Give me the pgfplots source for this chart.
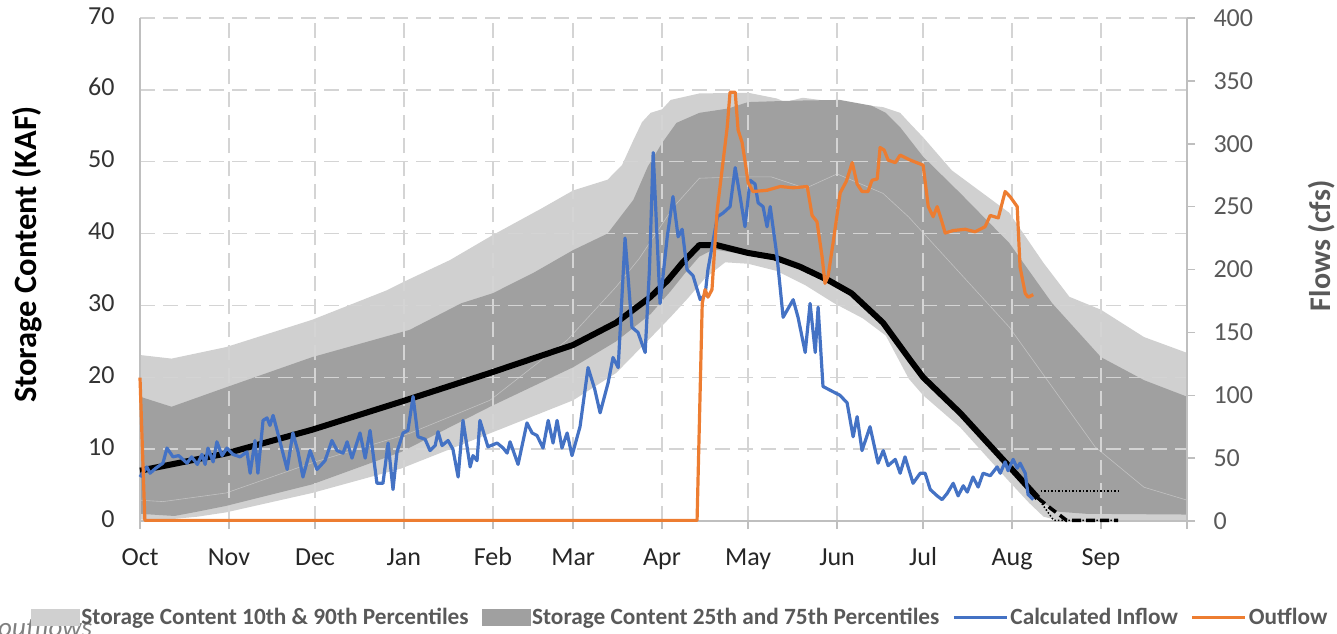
\documentclass[border=0pt]{standalone}
\usepackage{fontspec}
\setmainfont{Carlito}
\usepackage{pgfplots}
\pgfplotsset{compat=1.18}

\definecolor{lightband}{HTML}{D0D0D0}
\definecolor{darkband}{HTML}{A0A0A0}
\definecolor{inflow}{HTML}{4472C4}
\definecolor{outflow}{HTML}{ED7D31}
\definecolor{gridgray}{HTML}{D4D4D4}
\definecolor{axisgray}{HTML}{BFBFBF}
\definecolor{labelgray}{HTML}{595959}

\newcommand{\tickfont}{\fontsize{26}{30}\selectfont}
\newcommand{\labfont}{\fontsize{30}{34}\selectfont\bfseries}
\newcommand{\legfont}{\fontsize{23.3}{27}\selectfont\bfseries}

\pgfplotsset{
  /pgf/number format/assume math mode=true,
  common/.style={
    scale only axis, width=1047pt, height=503pt,
    at={(0pt,0pt)}, anchor=south west,
    xmin=0, xmax=365, clip=false,
    axis line style={axisgray, line width=1.5pt},
    tick align=outside, major tick length=8pt,
  },
}

\begin{document}
\begin{tikzpicture}

% stray caption text cut off at the bottom edge
\node[anchor=base west, font=\fontsize{27}{30}\selectfont\itshape, text=black!50, inner sep=0pt]
  at (-142pt,-115pt) {outflows};

% ---- storage (left axis, KAF) ----
\begin{axis}[
  common, set layers,
  ymin=0, ymax=70,
  axis x line*=bottom, axis y line*=left,
  xtick={0,31,61,92,123,151,182,212,243,273,304,335,365},
  xticklabels={Oct,Nov,Dec,Jan,Feb,Mar,Apr,May,Jun,Jul,Aug,Sep,{}},
  typeset ticklabels with strut,
  ytick={0,10,...,70},
  grid=major,
  grid style={gridgray, line width=1.5pt, dash pattern=on 15pt off 8pt},
  xtick style={axisgray, line width=1.5pt},
  ytick style={draw=none},
  ticklabel style={font=\tickfont},
  xticklabel style={text=black!85, yshift=-12pt},
  yticklabel style={text=black!80, xshift=-14pt},
  ylabel={Storage Content (KAF)},
  ylabel style={font=\fontsize{32.5}{36}\selectfont\bfseries,
    at={(axis description cs:-0.108,0.53)}, anchor=center},
]

% 10th-90th percentile band (90th forward, 10th back)
\addplot[on layer=axis background, fill=lightband, draw=none] coordinates {
  (0,23.1) (11,22.6) (30,24.2) (60,28.0) (86,32.1) (92,33.3) (108,36.3) (123,39.8)
  (140,43.5) (151,46.0) (163,47.5) (168,49.5) (172,53.0) (175,55.5) (178,56.8)
  (182,57.3) (185,58.6) (195,59.5) (212,59.6) (222,58.8) (225,58.3) (231,58.9)
  (243,58.3) (259,57.6) (265,56.8) (268,55.5) (273,53.4) (283,48.8) (303,42.9)
  (315,35.9) (324,31.2) (335,29.4) (350,25.6) (365,23.4)
  (365,0.1) (320,0.1) (315,0.6) (310,2.5) (303,5.5) (286,13.0) (273,17.5) (268,19.8)
  (260,25.8) (252,28.2) (242,30.3) (232,32.8) (222,34.8) (212,35.8) (204,36.0)
  (197,33.8) (191,31.0) (185,28.4) (178,25.5) (166,20.6) (151,16.8) (122,12.2)
  (91,7.3) (60,3.9) (30,1.2) (20,0.6) (12,0.3) (0,0.2)
};

% 25th-75th percentile band (75th forward, 25th back)
\addplot[on layer=axis background, fill=darkband, draw=none] coordinates {
  (0,17.3) (11,15.9) (30,18.6) (60,22.8) (94,26.6) (112,30.3) (123,31.7) (137,34.5)
  (151,37.7) (163,40.0) (172,44.7) (177,49.3) (182,52.6) (187,55.4) (195,56.8)
  (205,57.4) (212,58.3) (228,58.5) (244,58.6) (255,57.8) (260,56.8) (265,54.8)
  (268.5,53.0) (273,50.7) (286,45.6) (303,38.7) (318,30.3) (335,22.8) (350,19.6) (365,17.3)
  (365,0.9) (330,1.0) (320,1.3) (313,3.0) (303,7.3) (286,14.7) (273,19.8) (268,22.2)
  (259,27.2) (248,31.3) (240,33.1) (230,35.0) (221,36.3) (212,37.0) (200,37.8)
  (195,36.8) (190,34.5) (185,32.0) (178,28.8) (166,25.0) (151,21.4) (122,15.9)
  (91,9.6) (60,5.1) (30,2.1) (20,1.3) (12,0.7) (0,1.0)
};

% faint median trace
\addplot[on layer=axis background, white, opacity=0.35, line width=0.6pt] coordinates {
  (0,2.9) (8,2.7) (30,3.9) (60,8.1) (94,12.2) (122,16.8) (149,25.2) (166,32.6)
  (174,36.5) (186,43.7) (195,47.7) (209,47.9) (220,47.9) (232,46.3) (243,48.3)
  (259,45.6) (268,42.3) (303,27.0) (333,10.3) (350,4.7) (365,2.9)
};

% current storage
\addplot[black, line width=6pt, line join=round] coordinates {
  (0,7.0) (30,9.4) (60,12.7) (91,16.6) (122,20.6) (151,24.5) (166,27.6) (178,31.2)
  (184,33.5) (189,35.9) (195,38.4) (201,38.4) (212,37.3) (221,36.7) (230,35.4)
  (240,33.5) (248,31.7) (259,27.6) (268.5,22.4) (273,20.0) (286,15.0) (303,7.6) (313,3.2)
};
% projections
\addplot[black, line width=3.5pt, dash pattern=on 9pt off 5pt] coordinates {
  (313,3.2) (318,1.6) (323,0.1) (341,0.1)
};
\addplot[black, line width=1.5pt, dotted] coordinates {
  (313,3.2) (318.5,0.1) (341,0.1)
};
\addplot[black, line width=1.5pt, dotted] coordinates {
  (314,4.2) (341,4.2)
};
\end{axis}

% ---- flows (right axis, cfs) ----
\begin{axis}[
  common,
  ymin=0, ymax=400,
  axis x line=none, axis y line*=right,
  ytick={0,50,...,400},
  ytick style={axisgray, line width=1.5pt},
  yticklabel style={font=\tickfont, text=labelgray, xshift=15pt},
  ylabel={Flows (cfs)},
  ylabel style={font=\labfont, text=labelgray, at={(axis description cs:1.129,0.547)}, anchor=center},
  legend columns=4,
  legend style={at={(0.516,-0.191)}, anchor=center, draw=none, fill=none,
    font=\legfont, text=labelgray,
    /tikz/every even column/.append style={column sep=11pt}},
]
\addlegendimage{legend image code/.code={\fill[lightband] (0pt,-8pt) rectangle (48pt,8pt);}}
\addlegendimage{legend image code/.code={\fill[darkband] (0pt,-8pt) rectangle (48pt,8pt);}}

% calculated inflow
\addplot[inflow, line width=3.2pt, line join=round,
  legend image code/.code={\draw[inflow, line width=3pt] (0pt,0pt) -- (53pt,0pt);}] coordinates {
  (0,35) (1.5,40) (2.4,43) (3.5,38) (5.5,42) (8,46) (9.4,58) (11.5,51) (13.5,52)
  (16.4,46) (18,51) (20,45) (21.6,53) (22.7,45) (23.7,58) (25.5,47) (26.8,63)
  (28.6,52) (30.3,58) (32.4,53) (34.9,51) (37.3,55) (38.4,38) (40.1,64) (41.1,38)
  (42.9,80) (44.3,82) (45.3,76) (46.4,84) (47.8,72) (51.3,41) (53.3,70) (55.1,55)
  (56.8,35) (59.3,56) (61.7,41) (64.5,48) (66.9,64) (68.7,56) (70.8,54) (72.2,63)
  (73.9,50) (76.7,70) (78.5,50) (80.2,72) (82.6,30) (84.7,30) (86.5,62) (88.2,25)
  (89.6,55) (91.7,70) (93.4,72) (95.2,99) (96.9,67) (99.4,65) (101.1,56) (102.9,60)
  (103.9,71) (105.3,60) (107.4,64) (109.1,57) (110.9,35) (112.6,80) (115.1,43)
  (116.1,52) (117.5,48) (118.5,80) (121.3,59) (124.5,62) (126.6,58) (128,54) (129,63)
  (130.1,56) (131.8,45) (134.9,78) (136.7,70) (138.4,68) (140.5,58) (142.3,80) (144,62)
  (145.4,80) (147.1,58) (148.9,70) (150.6,52) (153.4,75) (156.2,122) (158.5,105)
  (160.4,86) (163.2,110) (164.9,130) (166.7,122) (169.1,225) (171.5,154) (173.6,150)
  (176.1,134) (177.6,200) (178.9,293) (181.3,173) (183.8,226) (185.8,258) (187.6,226)
  (189,232) (190.7,200) (192.8,195) (195.3,176) (197,180) (198,200) (201.3,242)
  (203.3,245) (205.7,250) (207.5,281) (209.2,258) (210.9,234) (212.7,271) (214.4,268)
  (215.5,253) (217.2,250) (218.6,234) (219.7,250) (222.1,210) (224.2,162) (227.7,176)
  (229.4,162) (231.9,134) (233.6,173) (235.4,134) (236.4,170) (238.1,107) (240.6,104)
  (244,100) (246.5,94) (248.6,67) (250,83) (251.7,56) (254.5,75) (257.3,46) (259.1,56)
  (260.8,44) (263.3,49) (265,38) (266.7,51) (269.5,30) (272,38) (273.7,38) (275.5,25)
  (277.9,20) (279.6,17) (281.4,22) (283.5,30) (285.2,20) (287,28) (288.4,23) (290.4,35)
  (292.2,27) (293.9,38) (296.4,36) (298.8,43) (299.9,38) (301.6,47) (302.6,40)
  (304.4,49) (305.8,42) (306.8,46) (308.6,38) (309.6,21) (311.4,17)
};

% outflow
\addplot[outflow, line width=3.2pt, line join=round,
  legend image code/.code={\draw[outflow, line width=3pt] (0pt,0pt) -- (53pt,0pt);}] coordinates {
  (0,114) (1.7,0.5) (194.2,0.5) (196,173) (197,184) (198,178) (199.4,184) (201.2,247)
  (202.9,279) (204.7,313) (205.7,341) (207.5,341) (208.5,311) (209.9,301) (211,285)
  (212,269) (213.7,262) (218.6,263) (223.2,266) (227.7,265) (232.6,266) (234.3,243)
  (236,238) (237.8,210) (238.8,189) (239.9,195) (241.6,221) (244.1,261) (246.2,270)
  (248.3,285) (250,268) (251.7,262) (253.8,262) (255.2,271) (257,272) (258,297)
  (259.4,295) (260.8,287) (263.3,285) (265,291) (268.5,287) (273,283) (274.8,250)
  (276.5,242) (277.9,250) (279.3,240) (280.7,229) (283.5,231) (287.7,232) (291.1,230)
  (294.6,234) (296.4,243) (299.2,241) (301.6,262) (303.3,258) (305.8,250) (306.8,202)
  (308.6,181) (309.6,178) (311.4,180)
};

\legend{Storage Content 10th \& 90th Percentiles, Storage Content 25th and 75th Percentiles,
  Calculated Inflow, Outflow}
\end{axis}

\pgfresetboundingbox
\path (-140pt,-112pt) rectangle (1197pt,521pt);
\end{tikzpicture}
\end{document}
